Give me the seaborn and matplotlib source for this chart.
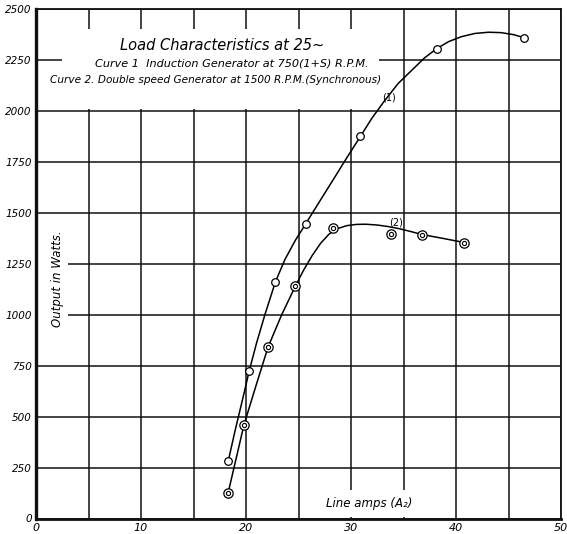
import matplotlib
matplotlib.use("Agg")
import matplotlib.pyplot as plt
import seaborn as sns
import pandas as pd
from matplotlib.patches import Rectangle

# ---- data ----
curve1_x = [18.3, 20.3, 22.8, 25.7, 30.9, 38.15, 46.5]
curve1_y = [280, 723, 1161, 1447, 1875, 2305, 2359]
curve2_x = [18.3, 19.8, 22.1, 24.7, 28.3, 33.8, 36.8, 40.8]
curve2_y = [126, 458, 841, 1140, 1427, 1398, 1393, 1354]

# hand-drawn fitted curves
trace1_x = [18.3, 19.0, 19.7, 20.3, 21.0, 21.8, 22.8, 23.7, 24.7, 25.7, 27.0, 28.3, 29.6,
            30.9, 32.0, 33.2, 34.5, 35.8, 37.0, 38.15, 39.3, 40.5, 41.8, 43.1, 44.3, 45.5, 46.5]
trace1_y = [280, 440, 590, 723, 860, 1000, 1161, 1270, 1365, 1447, 1555, 1662, 1770,
            1875, 1965, 2050, 2135, 2200, 2260, 2305, 2340, 2364, 2380, 2386, 2384, 2374, 2359]
trace2_x = [18.3, 19.8, 21.0, 22.1, 23.4, 24.7, 25.5, 26.3, 27.1, 27.9, 28.7, 29.6, 30.5,
            31.4, 32.5, 33.6, 34.6, 35.7, 36.8, 38.8, 40.8]
trace2_y = [126, 458, 660, 841, 1000, 1140, 1220, 1290, 1350, 1395, 1422, 1437, 1443,
            1444, 1440, 1432, 1422, 1408, 1393, 1374, 1354]

x_ticks = [0, 10, 20, 30, 40, 50]
y_ticks = [0, 250, 500, 750, 1000, 1250, 1500, 1750, 2000, 2250, 2500]
x_grid = [0, 5, 10, 15, 20, 25, 30, 35, 40, 45, 50]

title = "Load Characteristics at 25~"
line1 = "Curve 1  Induction Generator at 750(1+S) R.P.M."
line2 = "Curve 2. Double speed Generator at 1500 R.P.M.(Synchronous)"
ylabel = "Output in Watts."
xlabel = "Line amps (A\u2082)"

sns.set_style("white")
plt.rcParams['font.family'] = ['DejaVu Sans']
plt.rcParams['text.color'] = 'black'
plt.rcParams['xtick.color'] = 'black'
plt.rcParams['ytick.color'] = 'black'

fig = plt.figure(figsize=(5.67, 5.34), dpi=100)
ax = fig.add_axes([36/567, 1-518.5/534, (561-36)/567, (518.5-9)/534])

ax.set_xlim(0, 50)
ax.set_ylim(0, 2500)
ax.set_xticks(x_ticks)
ax.set_xticks(x_grid, minor=True)
ax.set_yticks(y_ticks)
ax.set_xticklabels([str(v) for v in x_ticks], fontstyle='italic', fontsize=8, color='black')
ax.set_yticklabels([str(v) for v in y_ticks], fontstyle='italic', fontsize=7.5, color='black')
ax.tick_params(which='both', length=0, pad=3)
ax.set_axisbelow(True)
ax.grid(which='both', color='#111111', lw=1.1)

for s, lw in (('left', 2.4), ('bottom', 2.0), ('top', 1.3), ('right', 1.3)):
    ax.spines[s].set_visible(True)
    ax.spines[s].set_color('#111111')
    ax.spines[s].set_linewidth(lw)

# gaps in the ruled grid behind the lettering
for (x0, y0, w, h) in [(2.5, 2010, 30.2, 390), (0.2, 900, 2.85, 570), (27, 8, 11, 132)]:
    ax.add_patch(Rectangle((x0, y0), w, h, facecolor='white', edgecolor='none', zorder=1))

t1 = pd.DataFrame({'x': trace1_x, 'y': trace1_y})
t2 = pd.DataFrame({'x': trace2_x, 'y': trace2_y})
sns.lineplot(data=t1, x='x', y='y', sort=False, estimator=None, color='black', lw=1.1, ax=ax, zorder=3)
sns.lineplot(data=t2, x='x', y='y', sort=False, estimator=None, color='black', lw=1.1, ax=ax, zorder=3)

d1 = pd.DataFrame({'x': curve1_x, 'y': curve1_y})
d2 = pd.DataFrame({'x': curve2_x, 'y': curve2_y})
sns.scatterplot(data=d1, x='x', y='y', marker='o', s=30, facecolor='white',
                edgecolor='black', linewidth=0.9, ax=ax, zorder=4)
sns.scatterplot(data=d2, x='x', y='y', marker='o', s=45, facecolor='white',
                edgecolor='black', linewidth=0.9, ax=ax, zorder=4)
sns.scatterplot(data=d2, x='x', y='y', marker='o', s=9, facecolor='white',
                edgecolor='black', linewidth=0.8, ax=ax, zorder=5)

ax.set_xlabel('')
ax.set_ylabel('')

ax.text(17.7, 2321, title, fontsize=10.5, fontstyle='italic', ha='center', va='center', zorder=6)
ax.text(5.6, 2233, line1, fontsize=8.1, fontstyle='italic', ha='left', va='center', zorder=6)
ax.text(1.3, 2150, line2, fontsize=7.6, fontstyle='italic', ha='left', va='center', zorder=6)
ax.text(2.0, 1175, ylabel, fontsize=8.5, fontstyle='italic', rotation=90, ha='center', va='center', zorder=6)
ax.text(31.7, 76, xlabel, fontsize=8.5, fontstyle='italic', ha='center', va='center', zorder=6)
ax.text(33.6, 2066, "(1)", fontsize=7, ha='center', va='center', zorder=6)
ax.text(34.3, 1452, "(2)", fontsize=7, ha='center', va='center', zorder=6)

fig.savefig("out.png", dpi=100)
